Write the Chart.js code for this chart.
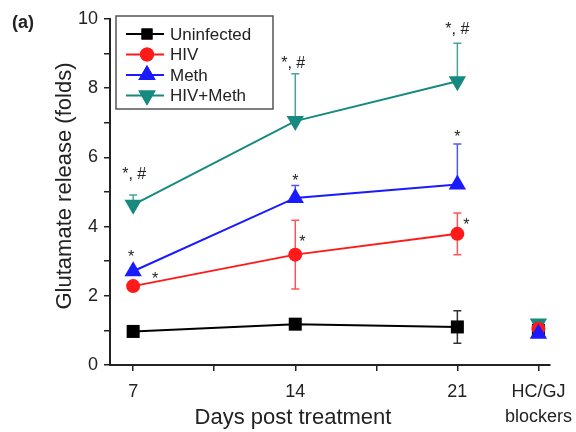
<!DOCTYPE html>
<html lang="en">
<head>
<meta charset="UTF-8">
<title>Glutamate release</title>
<script src="https://cdn.jsdelivr.net/npm/chart.js"></script>
<style>body{margin:0;background:#fff}</style>
</head>
<body>
<canvas id="myChart" width="576" height="432"></canvas>
<script>
// data
const days = [7, 14, 21];
const blockerX = 24.5;
const seriesNames = ['Uninfected', 'HIV', 'Meth', 'HIV+Meth'];
const uninfected = [0.97, 1.18, 1.10];
const hiv = [2.28, 3.19, 3.79];
const meth = [2.71, 4.83, 5.22];
const hivMeth = [4.63, 7.05, 8.20];
const blockerValues = [1.0, 1.05, 0.9, 1.2];
// error bars (folds)
const errUninfected = [0.08, 0.08, 0.47];
const errHiv = [0.08, 0.99, 0.6];
const errMeth = [0.08, 0.36, 1.17];
const errHivMeth = [0.28, 1.37, 1.1];
const twoSided = [true, true, false, false];
// x axis ticks
const xTicks = [7, 10.5, 14, 17.5, 21, 24.5];
const xLabels = ['7', '', '14', '', '21', ['HC/GJ', 'blockers']];
// significance marks
const marks = [
    { s: 3, i: 0, text: '*, #' }, { s: 3, i: 1, text: '*, #' }, { s: 3, i: 2, text: '*, #' },
    { s: 2, i: 0, text: '*' }, { s: 2, i: 1, text: '*' }, { s: 2, i: 2, text: '*' },
    { s: 1, i: 0, text: '*' }, { s: 1, i: 1, text: '*' }, { s: 1, i: 2, text: '*' }
];
// pixel offsets of each mark from the top of its error bar
const markOffsets = [[1, -21], [-2, -10], [0, -14], [-2, -11], [0, -4], [0, -6], [22, -4], [7, 22], [9, 12]];

const colors = ['#000000', '#ff1a1a', '#1a1aff', '#178a80'];
const errColors = ['#333333', '#ff5555', '#5555ff', '#4aa39c'];
const shapes = ['rect', 'circle', 'triangle', 'triangle'];
const radii = [9.2, 7, 10, 10];
const legendRadii = [7.8, 7, 10, 10];
const rotations = [0, 0, 0, 180];
const values = [uninfected, hiv, meth, hivMeth];
const errors = [errUninfected, errHiv, errMeth, errHivMeth];

const datasets = [];
values.forEach((vals, k) => {
    datasets.push({
        label: seriesNames[k],
        data: days.map((d, i) => ({ x: d, y: vals[i] })),
        borderColor: colors[k],
        backgroundColor: colors[k],
        borderWidth: 2,
        pointStyle: shapes[k],
        pointRadius: radii[k],
        pointRotation: rotations[k],
        pointBorderWidth: 0,
        showLine: true
    });
});
// blockers drawn without lines; teal last so it sits on top like the figure
[2, 1, 0, 3].forEach(k => {
    datasets.push({
        label: seriesNames[k] + ' blockers',
        data: [{ x: blockerX, y: blockerValues[k] }],
        backgroundColor: colors[k],
        borderColor: colors[k],
        pointStyle: shapes[k],
        pointRadius: radii[k],
        pointRotation: rotations[k],
        pointBorderWidth: 0,
        showLine: false
    });
});

const FONT = '"Liberation Sans", Arial, sans-serif';

const extras = {
    id: 'extras',
    beforeDatasetsDraw(chart) {
        const ctx = chart.ctx, xs = chart.scales.x, ys = chart.scales.y;
        ctx.save();
        ctx.lineWidth = 1.5;
        values.forEach((vals, k) => {
            ctx.strokeStyle = errColors[k];
            vals.forEach((v, i) => {
                const px = xs.getPixelForValue(days[i]);
                const top = ys.getPixelForValue(v + errors[k][i]);
                const bot = ys.getPixelForValue(twoSided[k] ? v - errors[k][i] : v);
                ctx.beginPath();
                ctx.moveTo(px, top); ctx.lineTo(px, bot);
                ctx.moveTo(px - 4, top); ctx.lineTo(px + 4, top);
                if (twoSided[k]) { ctx.moveTo(px - 4, bot); ctx.lineTo(px + 4, bot); }
                ctx.stroke();
            });
        });
        ctx.restore();
    },
    afterDraw(chart) {
        const ctx = chart.ctx, xs = chart.scales.x, ys = chart.scales.y;
        ctx.save();
        // significance marks
        ctx.fillStyle = '#222';
        ctx.font = '16px ' + FONT;
        ctx.textAlign = 'center';
        ctx.textBaseline = 'middle';
        marks.forEach((m, j) => {
            const k = m.s;
            const top = values[k][m.i] + errors[k][m.i];
            const px = xs.getPixelForValue(days[m.i]) + markOffsets[j][0];
            const py = ys.getPixelForValue(top) + markOffsets[j][1];
            ctx.fillText(m.text, px, py);
        });

        // legend box
        const lx = 116, ly = 16, lw = 157, lh = 93;
        ctx.strokeStyle = '#555';
        ctx.lineWidth = 1.5;
        ctx.fillStyle = '#fff';
        ctx.fillRect(lx, ly, lw, lh);
        ctx.strokeRect(lx, ly, lw, lh);
        ctx.font = '17px ' + FONT;
        ctx.textAlign = 'left';
        ctx.textBaseline = 'middle';
        seriesNames.forEach((name, k) => {
            const y = 34 + k * 20.5;
            ctx.strokeStyle = colors[k];
            ctx.lineWidth = 2;
            ctx.beginPath();
            ctx.moveTo(126, y); ctx.lineTo(164, y);
            ctx.stroke();
            ctx.fillStyle = colors[k];
            Chart.helpers.drawPoint(ctx, {
                pointStyle: shapes[k], radius: legendRadii[k], rotation: rotations[k], borderWidth: 0
            }, 147, y);
            ctx.fill();
            ctx.fillStyle = '#222';
            ctx.fillText(name, 170, y + 1);
        });

        // panel label and axis titles
        ctx.fillStyle = '#222';
        ctx.font = 'bold 18px ' + FONT;
        ctx.fillText('(a)', 12, 23);
        ctx.font = '22px ' + FONT;
        ctx.textAlign = 'center';
        ctx.fillText('Days post treatment', 293, 418);
        ctx.translate(65, 186);
        ctx.rotate(-Math.PI / 2);
        ctx.fillText('Glutamate release (folds)', 0, 0);
        ctx.restore();
    }
};

const ctx = document.getElementById('myChart').getContext('2d');
const myChart = new Chart(ctx, {
    type: 'scatter',
    data: { datasets: datasets },
    plugins: [extras],
    options: {
        responsive: false,
        animation: false,
        layout: { autoPadding: false, padding: { top: 19, right: 26, left: 0, bottom: 0 } },
        plugins: { legend: { display: false }, tooltip: { enabled: false } },
        scales: {
            x: {
                type: 'linear',
                min: 6,
                max: 25,
                afterBuildTicks: scale => { scale.ticks = xTicks.map(v => ({ value: v })); },
                afterFit: scale => {
                    scale.height = 67;
                    scale.paddingLeft = 0;
                    scale.paddingRight = 0;
                },
                grid: { drawOnChartArea: false, drawTicks: true, tickLength: 6, color: '#222', lineWidth: 1.5 },
                border: { display: true, color: '#222', width: 2 },
                ticks: {
                    autoSkip: false,
                    maxRotation: 0,
                    padding: 8,
                    color: '#222',
                    font: { size: 18, family: FONT, lineHeight: 1.4 },
                    callback: (v, i) => xLabels[i]
                }
            },
            y: {
                min: 0,
                max: 10,
                afterFit: scale => { scale.width = 110; },
                grid: { drawOnChartArea: false, drawTicks: true, tickLength: 6, color: '#222', lineWidth: 1.5 },
                border: { display: true, color: '#222', width: 2 },
                ticks: {
                    stepSize: 1,
                    padding: 6,
                    color: '#222',
                    font: { size: 18, family: FONT },
                    callback: v => (v % 2 === 0 ? v : '')
                }
            }
        }
    }
});
</script>
</body>
</html>
